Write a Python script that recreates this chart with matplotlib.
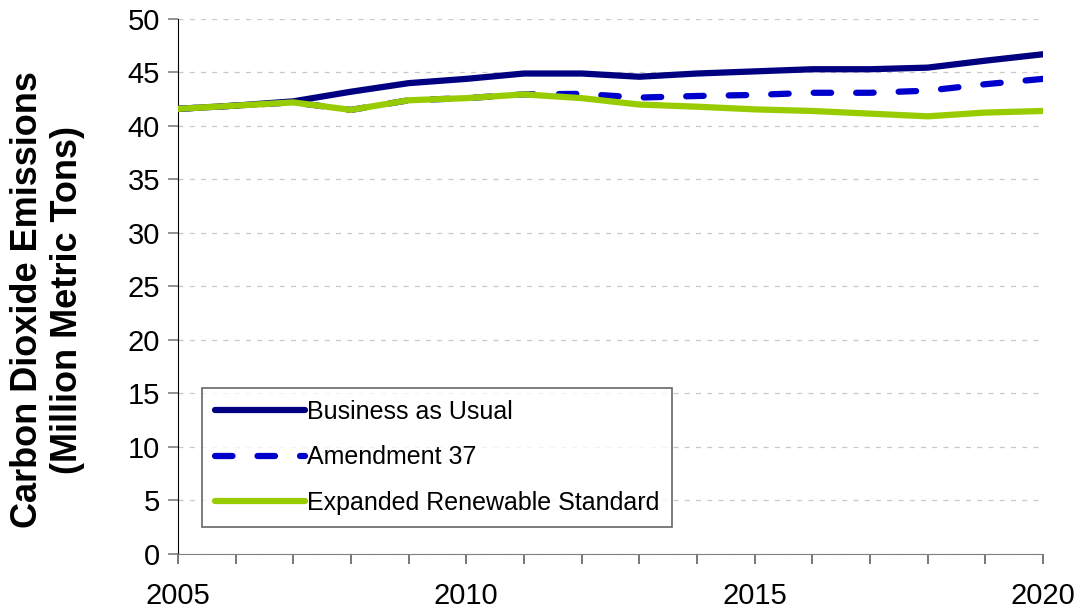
import matplotlib
matplotlib.use("Agg")
import matplotlib.pyplot as plt

plt.rcParams['font.family'] = ['Liberation Sans', 'DejaVu Sans']

years = list(range(2005, 2021))
business_as_usual = [41.6, 41.9, 42.3, 43.2, 44.0, 44.4, 44.9, 44.9, 44.6, 44.9,
                     45.1, 45.3, 45.3, 45.45, 46.1, 46.7]
amendment_37 = [41.6, 41.9, 42.2, 41.5, 42.4, 42.6, 42.95, 43.0, 42.65, 42.8,
                42.9, 43.1, 43.1, 43.3, 43.9, 44.4]
expanded_res = [41.6, 41.9, 42.2, 41.5, 42.4, 42.6, 42.95, 42.6, 42.0, 41.8,
                41.55, 41.4, 41.15, 40.9, 41.25, 41.4]
series_names = ["Business as Usual", "Amendment 37", "Expanded Renewable Standard"]

fig = plt.figure(figsize=(10.76, 6.11), dpi=100)
ax = fig.add_axes([0.1654, 0.0933, 0.8039, 0.8757])

ax.plot(years, business_as_usual, color="#000080", lw=4.5, label=series_names[0],
        solid_capstyle="round", zorder=3)
ax.plot(years, amendment_37, color="#0000CC", lw=4.5, label=series_names[1],
        dashes=(2.8, 4.0), dash_capstyle="round", zorder=4)
ax.plot(years, expanded_res, color="#99CC00", lw=4.5, label=series_names[2],
        solid_capstyle="round", zorder=5)

ax.set_xlim(2005, 2020)
ax.set_ylim(0, 50)
ax.set_yticks(range(0, 51, 5))
ax.set_xticks(range(2005, 2021))
ax.set_xticklabels([str(y) if y % 5 == 0 else "" for y in years])

ax.yaxis.grid(True, linestyle=(0, (4, 5)), color="#c8c8c8", lw=0.9)
ax.set_axisbelow(True)

for s in ["top", "right"]:
    ax.spines[s].set_visible(False)
ax.spines["left"].set_color("black")
ax.spines["bottom"].set_color("#808080")
ax.tick_params(axis="y", labelsize=21, length=7, width=1.2, color="#808080", pad=6)
ax.tick_params(axis="x", labelsize=21, length=7, width=1.2, color="#606060",
               direction="out", pad=13)

ax.set_ylabel("Carbon Dioxide Emissions\n(Million Metric Tons)", fontsize=26,
              fontweight="bold", linespacing=1.2)
ax.yaxis.set_label_coords(-0.107, 0.475)

leg = ax.legend(loc="lower left", bbox_to_anchor=(0.028, 0.05), fontsize=18,
                frameon=True, fancybox=False, edgecolor="#404040",
                handlelength=3.6, handletextpad=0.1, labelspacing=0.85,
                borderpad=0.5, borderaxespad=0)
leg.get_frame().set_linewidth(1.2)

fig.savefig("out.png", dpi=100)
